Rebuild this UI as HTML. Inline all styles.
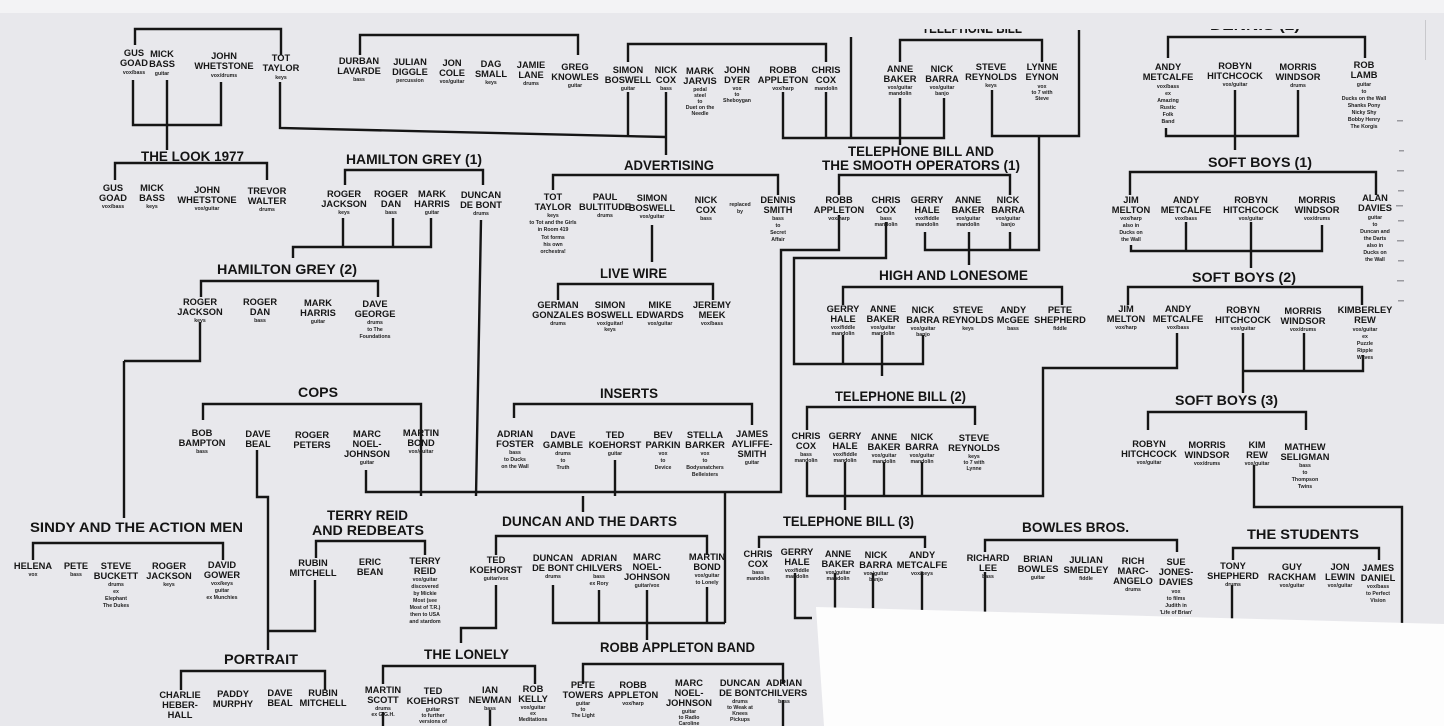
<!DOCTYPE html>
<html><head><meta charset="utf-8">
<style>
html,body{margin:0;padding:0;background:#e8e8ec;}
svg{display:block}
.n{font-family:"Liberation Sans",sans-serif;font-weight:bold;font-size:9.3px;fill:#161616;text-anchor:middle}
.r{font-family:"Liberation Sans",sans-serif;font-weight:bold;font-size:5.2px;fill:#222;text-anchor:middle}
.t{font-family:"Liberation Sans",sans-serif;font-weight:bold;font-size:14px;fill:#141414;text-anchor:start}
path{fill:none;stroke:#151515;stroke-width:2.4}
</style></head><body>
<svg width="1444" height="726" viewBox="0 0 1444 726" xmlns="http://www.w3.org/2000/svg">
<defs><clipPath id="tc"><rect x="0" y="29" width="1444" height="10"/></clipPath></defs>
<rect x="0" y="0" width="1444" height="726" fill="#e8e8ec"/>
<rect x="0" y="0" width="1444" height="13" fill="#f3f3f5"/>
<g clip-path="url(#tc)"><text class="t" x="922" y="33" textLength="100" lengthAdjust="spacingAndGlyphs" fill="#777">TELEPHONE BILL</text><text class="t" x="1210" y="30" textLength="90" lengthAdjust="spacingAndGlyphs" fill="#555">DENNIS (2)</text></g>

<path d="M135 45V29H281V55M133 80V125H221V82M167 80V150M280 82V128L666 137M666 92V155"/>
<path d="M628 62V44H826V62M628 92V137M826 92V138M783 92V138H944V98M851 37V138"/>
<path d="M900 62V40H1042V62M900 98V145M992 90V136H1079V30"/>
<path d="M360 55V35H578V55"/>
<path d="M839 195V175H1010V195M839 215V250H781V492H366V470M886 222V258H794V364H923V335M843 335V364M882 335V376"/>
<path d="M925 232V250H1039V136M1010 232V250M969 232V265"/>
<path d="M843 305V287H1062V305"/>
<path d="M807 430V407H975V425M807 462V496H1043V368H1177V333M845 462V510M884 462V496M922 462V496"/>
<path d="M1168 58V37H1365V58M1166 128V136H1298V90M1235 90V150"/>
<path d="M1130 195V172H1376V195M1131 245V251H1322V225M1186 222V251M1251 222V268"/>
<path d="M1128 305V287H1362V305M1243 333V393M1243 371H1363V355M1304 333V371"/>
<path d="M1148 430V412H1306V430M1254 465V507H1402V625"/>
<path d="M1233 560V548H1379V560M1232 585V620"/>
<path d="M985 552V540H1177V552M985 572V612"/>
<path d="M759 548V537H925V548M795 573V618H812M835 573V608M873 573V608M922 572V610"/>
<path d="M421 418V496M583 496V512M615 460V496M725 492V623"/>
<path d="M553 585V623H725M599 590V623M707 587V623M647 590V640"/>
<path d="M514 418V404H752V425"/>
<path d="M203 420V404H421V418M257 450V497H268V631H315V580M268 631V650"/>
<path d="M124 361H200V322M124 361V518M33 560V543H223V560"/>
<path d="M345 185V170H483V185M343 218V247M393 218V247M431 218V247H293V258M481 220L476 496"/>
<path d="M201 297V281H378V297"/>
<path d="M115 180V163H267V180"/>
<path d="M553 190V175H778V195M652 225V262M558 300V284H713V300"/>
<path d="M316 558V541H425V555"/>
<path d="M496 555V536H707V555M496 585V628H461V643"/>
<path d="M383 684V666H535V684M490 710V726M383 712V726"/>
<path d="M583 684V664H783V684M783 700V726"/>
<path d="M181 690V671H325V690"/>

<text class="t" x="141" y="161" textLength="103" lengthAdjust="spacingAndGlyphs">THE LOOK 1977</text>
<text class="t" x="346" y="164" textLength="136" lengthAdjust="spacingAndGlyphs">HAMILTON GREY (1)</text>
<text class="t" x="217" y="274" textLength="140" lengthAdjust="spacingAndGlyphs">HAMILTON GREY (2)</text>
<text class="t" x="624" y="170" textLength="90" lengthAdjust="spacingAndGlyphs">ADVERTISING</text>
<text class="t" x="600" y="278" textLength="67" lengthAdjust="spacingAndGlyphs">LIVE WIRE</text>
<text class="t" x="848" y="156" textLength="146" lengthAdjust="spacingAndGlyphs">TELEPHONE BILL AND</text>
<text class="t" x="822" y="170" textLength="198" lengthAdjust="spacingAndGlyphs">THE SMOOTH OPERATORS (1)</text>
<text class="t" x="879" y="280" textLength="149" lengthAdjust="spacingAndGlyphs">HIGH AND LONESOME</text>
<text class="t" x="1208" y="167" textLength="104" lengthAdjust="spacingAndGlyphs">SOFT BOYS (1)</text>
<text class="t" x="1192" y="282" textLength="104" lengthAdjust="spacingAndGlyphs">SOFT BOYS (2)</text>
<text class="t" x="298" y="397" textLength="40" lengthAdjust="spacingAndGlyphs">COPS</text>
<text class="t" x="600" y="398" textLength="58" lengthAdjust="spacingAndGlyphs">INSERTS</text>
<text class="t" x="835" y="401" textLength="131" lengthAdjust="spacingAndGlyphs">TELEPHONE BILL (2)</text>
<text class="t" x="1175" y="405" textLength="103" lengthAdjust="spacingAndGlyphs">SOFT BOYS (3)</text>
<text class="t" x="30" y="532" textLength="213" lengthAdjust="spacingAndGlyphs">SINDY AND THE ACTION MEN</text>
<text class="t" x="327" y="520" textLength="81" lengthAdjust="spacingAndGlyphs">TERRY REID</text>
<text class="t" x="312" y="535" textLength="112" lengthAdjust="spacingAndGlyphs">AND REDBEATS</text>
<text class="t" x="502" y="526" textLength="175" lengthAdjust="spacingAndGlyphs">DUNCAN AND THE DARTS</text>
<text class="t" x="783" y="526" textLength="131" lengthAdjust="spacingAndGlyphs">TELEPHONE BILL (3)</text>
<text class="t" x="1022" y="532" textLength="107" lengthAdjust="spacingAndGlyphs">BOWLES BROS.</text>
<text class="t" x="1247" y="539" textLength="112" lengthAdjust="spacingAndGlyphs">THE STUDENTS</text>
<text class="t" x="224" y="664" textLength="74" lengthAdjust="spacingAndGlyphs">PORTRAIT</text>
<text class="t" x="424" y="659" textLength="85" lengthAdjust="spacingAndGlyphs">THE LONELY</text>
<text class="t" x="600" y="652" textLength="155" lengthAdjust="spacingAndGlyphs">ROBB APPLETON BAND</text>

<text class="n" x="134" y="56">GUS</text><text class="n" x="134" y="66">GOAD</text><text class="r" x="134" y="74">vox/bass</text>
<text class="n" x="162" y="57">MICK</text><text class="n" x="162" y="67">BASS</text><text class="r" x="162" y="75">guitar</text>
<text class="n" x="224" y="59">JOHN</text><text class="n" x="224" y="69">WHETSTONE</text><text class="r" x="224" y="77">vox/drums</text>
<text class="n" x="281" y="61">TOT</text><text class="n" x="281" y="71">TAYLOR</text><text class="r" x="281" y="79">keys</text>

<text class="n" x="359" y="64">DURBAN</text><text class="n" x="359" y="74">LAVARDE</text><text class="r" x="359" y="81">bass</text>
<text class="n" x="410" y="65">JULIAN</text><text class="n" x="410" y="75">DIGGLE</text><text class="r" x="410" y="82">percussion</text>
<text class="n" x="452" y="66">JON</text><text class="n" x="452" y="76">COLE</text><text class="r" x="452" y="83">vox/guitar</text>
<text class="n" x="491" y="67">DAG</text><text class="n" x="491" y="77">SMALL</text><text class="r" x="491" y="84">keys</text>
<text class="n" x="531" y="68">JAMIE</text><text class="n" x="531" y="78">LANE</text><text class="r" x="531" y="85">drums</text>
<text class="n" x="575" y="70">GREG</text><text class="n" x="575" y="80">KNOWLES</text><text class="r" x="575" y="87">guitar</text>
<text class="n" x="628" y="73">SIMON</text><text class="n" x="628" y="83">BOSWELL</text><text class="r" x="628" y="90">guitar</text>
<text class="n" x="666" y="73">NICK</text><text class="n" x="666" y="83">COX</text><text class="r" x="666" y="90">bass</text>
<text class="n" x="700" y="74">MARK</text><text class="n" x="700" y="84">JARVIS</text><text class="r" x="700" y="91">pedal</text><text class="r" x="700" y="97">steel</text><text class="r" x="700" y="103">to</text><text class="r" x="700" y="109">Duet on the</text><text class="r" x="700" y="115">Needle</text>
<text class="n" x="737" y="73">JOHN</text><text class="n" x="737" y="83">DYER</text><text class="r" x="737" y="90">vox</text><text class="r" x="737" y="96">to</text><text class="r" x="737" y="102">Sheboygan</text>
<text class="n" x="783" y="73">ROBB</text><text class="n" x="783" y="83">APPLETON</text><text class="r" x="783" y="90">vox/harp</text>
<text class="n" x="826" y="73">CHRIS</text><text class="n" x="826" y="83">COX</text><text class="r" x="826" y="90">mandolin</text>
<text class="n" x="900" y="72">ANNE</text><text class="n" x="900" y="82">BAKER</text><text class="r" x="900" y="89">vox/guitar</text><text class="r" x="900" y="95">mandolin</text>
<text class="n" x="942" y="72">NICK</text><text class="n" x="942" y="82">BARRA</text><text class="r" x="942" y="89">vox/guitar</text><text class="r" x="942" y="95">banjo</text>
<text class="n" x="991" y="70">STEVE</text><text class="n" x="991" y="80">REYNOLDS</text><text class="r" x="991" y="87">keys</text>
<text class="n" x="1042" y="70">LYNNE</text><text class="n" x="1042" y="80">EYNON</text><text class="r" x="1042" y="88">vox</text><text class="r" x="1042" y="94">to 7 with</text><text class="r" x="1042" y="100">Steve</text>

<text class="n" x="1168" y="70">ANDY</text><text class="n" x="1168" y="80">METCALFE</text><text class="r" x="1168" y="88">vox/bass</text><text class="r" x="1168" y="95">ex</text><text class="r" x="1168" y="102">Amazing</text><text class="r" x="1168" y="109">Rustic</text><text class="r" x="1168" y="116">Folk</text><text class="r" x="1168" y="123">Band</text>
<text class="n" x="1235" y="69">ROBYN</text><text class="n" x="1235" y="79">HITCHCOCK</text><text class="r" x="1235" y="86">vox/guitar</text>
<text class="n" x="1298" y="70">MORRIS</text><text class="n" x="1298" y="80">WINDSOR</text><text class="r" x="1298" y="87">drums</text>
<text class="n" x="1364" y="68">ROB</text><text class="n" x="1364" y="78">LAMB</text><text class="r" x="1364" y="86">guitar</text><text class="r" x="1364" y="93">to</text><text class="r" x="1364" y="100">Ducks on the Wall</text><text class="r" x="1364" y="107">Shanks Pony</text><text class="r" x="1364" y="114">Nicky Shy</text><text class="r" x="1364" y="121">Bobby Henry</text><text class="r" x="1364" y="128">The Korgis</text>

<text class="n" x="113" y="191">GUS</text><text class="n" x="113" y="201">GOAD</text><text class="r" x="113" y="208">vox/bass</text>
<text class="n" x="152" y="191">MICK</text><text class="n" x="152" y="201">BASS</text><text class="r" x="152" y="208">keys</text>
<text class="n" x="207" y="193">JOHN</text><text class="n" x="207" y="203">WHETSTONE</text><text class="r" x="207" y="210">vox/guitar</text>
<text class="n" x="267" y="194">TREVOR</text><text class="n" x="267" y="204">WALTER</text><text class="r" x="267" y="211">drums</text>

<text class="n" x="344" y="197">ROGER</text><text class="n" x="344" y="207">JACKSON</text><text class="r" x="344" y="214">keys</text>
<text class="n" x="391" y="197">ROGER</text><text class="n" x="391" y="207">DAN</text><text class="r" x="391" y="214">bass</text>
<text class="n" x="432" y="197">MARK</text><text class="n" x="432" y="207">HARRIS</text><text class="r" x="432" y="214">guitar</text>
<text class="n" x="481" y="198">DUNCAN</text><text class="n" x="481" y="208">DE BONT</text><text class="r" x="481" y="215">drums</text>

<text class="n" x="200" y="305">ROGER</text><text class="n" x="200" y="315">JACKSON</text><text class="r" x="200" y="322">keys</text>
<text class="n" x="260" y="305">ROGER</text><text class="n" x="260" y="315">DAN</text><text class="r" x="260" y="322">bass</text>
<text class="n" x="318" y="306">MARK</text><text class="n" x="318" y="316">HARRIS</text><text class="r" x="318" y="323">guitar</text>
<text class="n" x="375" y="307">DAVE</text><text class="n" x="375" y="317">GEORGE</text><text class="r" x="375" y="324">drums</text><text class="r" x="375" y="331">to The</text><text class="r" x="375" y="338">Foundations</text>

<text class="n" x="553" y="200">TOT</text><text class="n" x="553" y="210">TAYLOR</text><text class="r" x="553" y="217">keys</text><text class="r" x="553" y="224">to Tot and the Girls</text><text class="r" x="553" y="231">in Room 419</text><text class="r" x="553" y="239">Tot forms</text><text class="r" x="553" y="246">his own</text><text class="r" x="553" y="253">orchestra!</text>
<text class="n" x="605" y="200">PAUL</text><text class="n" x="605" y="210">BULTITUDE</text><text class="r" x="605" y="217">drums</text>
<text class="n" x="652" y="201">SIMON</text><text class="n" x="652" y="211">BOSWELL</text><text class="r" x="652" y="218">vox/guitar</text>
<text class="n" x="706" y="203">NICK</text><text class="n" x="706" y="213">COX</text><text class="r" x="706" y="220">bass</text>
<text class="r" x="740" y="206">replaced</text><text class="r" x="740" y="213">by</text>
<text class="n" x="778" y="203">DENNIS</text><text class="n" x="778" y="213">SMITH</text><text class="r" x="778" y="220">bass</text><text class="r" x="778" y="227">to</text><text class="r" x="778" y="234">Secret</text><text class="r" x="778" y="241">Affair</text>

<text class="n" x="558" y="308">GERMAN</text><text class="n" x="558" y="318">GONZALES</text><text class="r" x="558" y="325">drums</text>
<text class="n" x="610" y="308">SIMON</text><text class="n" x="610" y="318">BOSWELL</text><text class="r" x="610" y="325">vox/guitar/</text><text class="r" x="610" y="331">keys</text>
<text class="n" x="660" y="308">MIKE</text><text class="n" x="660" y="318">EDWARDS</text><text class="r" x="660" y="325">vox/guitar</text>
<text class="n" x="712" y="308">JEREMY</text><text class="n" x="712" y="318">MEEK</text><text class="r" x="712" y="325">vox/bass</text>

<text class="n" x="839" y="203">ROBB</text><text class="n" x="839" y="213">APPLETON</text><text class="r" x="839" y="220">vox/harp</text>
<text class="n" x="886" y="203">CHRIS</text><text class="n" x="886" y="213">COX</text><text class="r" x="886" y="220">bass</text><text class="r" x="886" y="226">mandolin</text>
<text class="n" x="927" y="203">GERRY</text><text class="n" x="927" y="213">HALE</text><text class="r" x="927" y="220">vox/fiddle</text><text class="r" x="927" y="226">mandolin</text>
<text class="n" x="968" y="203">ANNE</text><text class="n" x="968" y="213">BAKER</text><text class="r" x="968" y="220">vox/guitar</text><text class="r" x="968" y="226">mandolin</text>
<text class="n" x="1008" y="203">NICK</text><text class="n" x="1008" y="213">BARRA</text><text class="r" x="1008" y="220">vox/guitar</text><text class="r" x="1008" y="226">banjo</text>

<text class="n" x="843" y="312">GERRY</text><text class="n" x="843" y="322">HALE</text><text class="r" x="843" y="329">vox/fiddle</text><text class="r" x="843" y="335">mandolin</text>
<text class="n" x="883" y="312">ANNE</text><text class="n" x="883" y="322">BAKER</text><text class="r" x="883" y="329">vox/guitar</text><text class="r" x="883" y="335">mandolin</text>
<text class="n" x="923" y="313">NICK</text><text class="n" x="923" y="323">BARRA</text><text class="r" x="923" y="330">vox/guitar</text><text class="r" x="923" y="336">banjo</text>
<text class="n" x="968" y="313">STEVE</text><text class="n" x="968" y="323">REYNOLDS</text><text class="r" x="968" y="330">keys</text>
<text class="n" x="1013" y="313">ANDY</text><text class="n" x="1013" y="323">McGEE</text><text class="r" x="1013" y="330">bass</text>
<text class="n" x="1060" y="313">PETE</text><text class="n" x="1060" y="323">SHEPHERD</text><text class="r" x="1060" y="330">fiddle</text>

<text class="n" x="1131" y="203">JIM</text><text class="n" x="1131" y="213">MELTON</text><text class="r" x="1131" y="220">vox/harp</text><text class="r" x="1131" y="227">also in</text><text class="r" x="1131" y="234">Ducks on</text><text class="r" x="1131" y="241">the Wall</text>
<text class="n" x="1186" y="203">ANDY</text><text class="n" x="1186" y="213">METCALFE</text><text class="r" x="1186" y="220">vox/bass</text>
<text class="n" x="1251" y="203">ROBYN</text><text class="n" x="1251" y="213">HITCHCOCK</text><text class="r" x="1251" y="220">vox/guitar</text>
<text class="n" x="1317" y="203">MORRIS</text><text class="n" x="1317" y="213">WINDSOR</text><text class="r" x="1317" y="220">vox/drums</text>
<text class="n" x="1375" y="201">ALAN</text><text class="n" x="1375" y="211">DAVIES</text><text class="r" x="1375" y="219">guitar</text><text class="r" x="1375" y="226">to</text><text class="r" x="1375" y="233">Duncan and</text><text class="r" x="1375" y="240">the Darts</text><text class="r" x="1375" y="247">also in</text><text class="r" x="1375" y="254">Ducks on</text><text class="r" x="1375" y="261">the Wall</text>

<text class="n" x="1126" y="312">JIM</text><text class="n" x="1126" y="322">MELTON</text><text class="r" x="1126" y="329">vox/harp</text>
<text class="n" x="1178" y="312">ANDY</text><text class="n" x="1178" y="322">METCALFE</text><text class="r" x="1178" y="329">vox/bass</text>
<text class="n" x="1243" y="313">ROBYN</text><text class="n" x="1243" y="323">HITCHCOCK</text><text class="r" x="1243" y="330">vox/guitar</text>
<text class="n" x="1303" y="314">MORRIS</text><text class="n" x="1303" y="324">WINDSOR</text><text class="r" x="1303" y="331">vox/drums</text>
<text class="n" x="1365" y="313">KIMBERLEY</text><text class="n" x="1365" y="323">REW</text><text class="r" x="1365" y="331">vox/guitar</text><text class="r" x="1365" y="338">ex</text><text class="r" x="1365" y="345">Puzzle</text><text class="r" x="1365" y="352">Ripple</text><text class="r" x="1365" y="359">Waves</text>

<text class="n" x="806" y="439">CHRIS</text><text class="n" x="806" y="449">COX</text><text class="r" x="806" y="456">bass</text><text class="r" x="806" y="462">mandolin</text>
<text class="n" x="845" y="439">GERRY</text><text class="n" x="845" y="449">HALE</text><text class="r" x="845" y="456">vox/fiddle</text><text class="r" x="845" y="462">mandolin</text>
<text class="n" x="884" y="440">ANNE</text><text class="n" x="884" y="450">BAKER</text><text class="r" x="884" y="457">vox/guitar</text><text class="r" x="884" y="463">mandolin</text>
<text class="n" x="922" y="440">NICK</text><text class="n" x="922" y="450">BARRA</text><text class="r" x="922" y="457">vox/guitar</text><text class="r" x="922" y="463">mandolin</text>
<text class="n" x="974" y="441">STEVE</text><text class="n" x="974" y="451">REYNOLDS</text><text class="r" x="974" y="458">keys</text><text class="r" x="974" y="464">to 7 with</text><text class="r" x="974" y="470">Lynne</text>

<text class="n" x="1149" y="447">ROBYN</text><text class="n" x="1149" y="457">HITCHCOCK</text><text class="r" x="1149" y="464">vox/guitar</text>
<text class="n" x="1207" y="448">MORRIS</text><text class="n" x="1207" y="458">WINDSOR</text><text class="r" x="1207" y="465">vox/drums</text>
<text class="n" x="1257" y="448">KIM</text><text class="n" x="1257" y="458">REW</text><text class="r" x="1257" y="465">vox/guitar</text>
<text class="n" x="1305" y="450">MATHEW</text><text class="n" x="1305" y="460">SELIGMAN</text><text class="r" x="1305" y="467">bass</text><text class="r" x="1305" y="474">to</text><text class="r" x="1305" y="481">Thompson</text><text class="r" x="1305" y="488">Twins</text>

<text class="n" x="202" y="436">BOB</text><text class="n" x="202" y="446">BAMPTON</text><text class="r" x="202" y="453">bass</text>
<text class="n" x="258" y="437">DAVE</text><text class="n" x="258" y="447">BEAL</text>
<text class="n" x="312" y="438">ROGER</text><text class="n" x="312" y="448">PETERS</text>
<text class="n" x="367" y="437">MARC</text><text class="n" x="367" y="447">NOEL-</text><text class="n" x="367" y="457">JOHNSON</text><text class="r" x="367" y="464">guitar</text>
<text class="n" x="421" y="436">MARTIN</text><text class="n" x="421" y="446">BOND</text><text class="r" x="421" y="453">vox/guitar</text>

<text class="n" x="515" y="437">ADRIAN</text><text class="n" x="515" y="447">FOSTER</text><text class="r" x="515" y="454">bass</text><text class="r" x="515" y="461">to Ducks</text><text class="r" x="515" y="468">on the Wall</text>
<text class="n" x="563" y="438">DAVE</text><text class="n" x="563" y="448">GAMBLE</text><text class="r" x="563" y="455">drums</text><text class="r" x="563" y="462">to</text><text class="r" x="563" y="469">Truth</text>
<text class="n" x="615" y="438">TED</text><text class="n" x="615" y="448">KOEHORST</text><text class="r" x="615" y="455">guitar</text>
<text class="n" x="663" y="438">BEV</text><text class="n" x="663" y="448">PARKIN</text><text class="r" x="663" y="455">vox</text><text class="r" x="663" y="462">to</text><text class="r" x="663" y="469">Device</text>
<text class="n" x="705" y="438">STELLA</text><text class="n" x="705" y="448">BARKER</text><text class="r" x="705" y="455">vox</text><text class="r" x="705" y="462">to</text><text class="r" x="705" y="469">Bodysnatchers</text><text class="r" x="705" y="476">Belleisters</text>
<text class="n" x="752" y="437">JAMES</text><text class="n" x="752" y="447">AYLIFFE-</text><text class="n" x="752" y="457">SMITH</text><text class="r" x="752" y="464">guitar</text>

<text class="n" x="758" y="557">CHRIS</text><text class="n" x="758" y="567">COX</text><text class="r" x="758" y="574">bass</text><text class="r" x="758" y="580">mandolin</text>
<text class="n" x="797" y="555">GERRY</text><text class="n" x="797" y="565">HALE</text><text class="r" x="797" y="572">vox/fiddle</text><text class="r" x="797" y="578">mandolin</text>
<text class="n" x="838" y="557">ANNE</text><text class="n" x="838" y="567">BAKER</text><text class="r" x="838" y="574">vox/guitar</text><text class="r" x="838" y="580">mandolin</text>
<text class="n" x="876" y="558">NICK</text><text class="n" x="876" y="568">BARRA</text><text class="r" x="876" y="575">vox/guitar</text><text class="r" x="876" y="581">banjo</text>
<text class="n" x="922" y="558">ANDY</text><text class="n" x="922" y="568">METCALFE</text><text class="r" x="922" y="575">vox/keys</text>

<text class="n" x="988" y="561">RICHARD</text><text class="n" x="988" y="571">LEE</text><text class="r" x="988" y="578">bass</text>
<text class="n" x="1038" y="562">BRIAN</text><text class="n" x="1038" y="572">BOWLES</text><text class="r" x="1038" y="579">guitar</text>
<text class="n" x="1086" y="563">JULIAN</text><text class="n" x="1086" y="573">SMEDLEY</text><text class="r" x="1086" y="580">fiddle</text>
<text class="n" x="1133" y="564">RICH</text><text class="n" x="1133" y="574">MARC-</text><text class="n" x="1133" y="584">ANGELO</text><text class="r" x="1133" y="591">drums</text>
<text class="n" x="1176" y="565">SUE</text><text class="n" x="1176" y="575">JONES-</text><text class="n" x="1176" y="585">DAVIES</text><text class="r" x="1176" y="593">vox</text><text class="r" x="1176" y="600">to films</text><text class="r" x="1176" y="607">Judith in</text><text class="r" x="1176" y="614">'Life of Brian'</text>

<text class="n" x="1233" y="569">TONY</text><text class="n" x="1233" y="579">SHEPHERD</text><text class="r" x="1233" y="586">drums</text>
<text class="n" x="1292" y="570">GUY</text><text class="n" x="1292" y="580">RACKHAM</text><text class="r" x="1292" y="587">vox/guitar</text>
<text class="n" x="1340" y="570">JON</text><text class="n" x="1340" y="580">LEWIN</text><text class="r" x="1340" y="587">vox/guitar</text>
<text class="n" x="1378" y="571">JAMES</text><text class="n" x="1378" y="581">DANIEL</text><text class="r" x="1378" y="588">vox/bass</text><text class="r" x="1378" y="595">to Perfect</text><text class="r" x="1378" y="602">Vision</text>

<text class="n" x="33" y="569">HELENA</text><text class="r" x="33" y="576">vox</text>
<text class="n" x="76" y="569">PETE</text><text class="r" x="76" y="576">bass</text>
<text class="n" x="116" y="569">STEVE</text><text class="n" x="116" y="579">BUCKETT</text><text class="r" x="116" y="586">drums</text><text class="r" x="116" y="593">ex</text><text class="r" x="116" y="600">Elephant</text><text class="r" x="116" y="607">The Dukes</text>
<text class="n" x="169" y="569">ROGER</text><text class="n" x="169" y="579">JACKSON</text><text class="r" x="169" y="586">keys</text>
<text class="n" x="222" y="568">DAVID</text><text class="n" x="222" y="578">GOWER</text><text class="r" x="222" y="585">vox/keys</text><text class="r" x="222" y="592">guitar</text><text class="r" x="222" y="599">ex Munchies</text>

<text class="n" x="313" y="566">RUBIN</text><text class="n" x="313" y="576">MITCHELL</text>
<text class="n" x="370" y="565">ERIC</text><text class="n" x="370" y="575">BEAN</text>
<text class="n" x="425" y="564">TERRY</text><text class="n" x="425" y="574">REID</text><text class="r" x="425" y="581">vox/guitar</text><text class="r" x="425" y="588">discovered</text><text class="r" x="425" y="595">by Mickie</text><text class="r" x="425" y="602">Most (see</text><text class="r" x="425" y="609">Most of T.R.)</text><text class="r" x="425" y="616">then to USA</text><text class="r" x="425" y="623">and stardom</text>

<text class="n" x="496" y="563">TED</text><text class="n" x="496" y="573">KOEHORST</text><text class="r" x="496" y="580">guitar/vox</text>
<text class="n" x="553" y="561">DUNCAN</text><text class="n" x="553" y="571">DE BONT</text><text class="r" x="553" y="578">drums</text>
<text class="n" x="599" y="561">ADRIAN</text><text class="n" x="599" y="571">CHILVERS</text><text class="r" x="599" y="578">bass</text><text class="r" x="599" y="585">ex Rory</text>
<text class="n" x="647" y="560">MARC</text><text class="n" x="647" y="570">NOEL-</text><text class="n" x="647" y="580">JOHNSON</text><text class="r" x="647" y="587">guitar/vox</text>
<text class="n" x="707" y="560">MARTIN</text><text class="n" x="707" y="570">BOND</text><text class="r" x="707" y="577">vox/guitar</text><text class="r" x="707" y="584">to Lonely</text>

<text class="n" x="180" y="698">CHARLIE</text><text class="n" x="180" y="708">HEBER-</text><text class="n" x="180" y="718">HALL</text>
<text class="n" x="233" y="697">PADDY</text><text class="n" x="233" y="707">MURPHY</text>
<text class="n" x="280" y="696">DAVE</text><text class="n" x="280" y="706">BEAL</text>
<text class="n" x="323" y="696">RUBIN</text><text class="n" x="323" y="706">MITCHELL</text>

<text class="n" x="383" y="693">MARTIN</text><text class="n" x="383" y="703">SCOTT</text><text class="r" x="383" y="710">drums</text><text class="r" x="383" y="716">ex G.G.H.</text>
<text class="n" x="433" y="694">TED</text><text class="n" x="433" y="704">KOEHORST</text><text class="r" x="433" y="711">guitar</text><text class="r" x="433" y="717">to further</text><text class="r" x="433" y="723">versions of</text>
<text class="n" x="490" y="693">IAN</text><text class="n" x="490" y="703">NEWMAN</text><text class="r" x="490" y="710">bass</text>
<text class="n" x="533" y="692">ROB</text><text class="n" x="533" y="702">KELLY</text><text class="r" x="533" y="709">vox/guitar</text><text class="r" x="533" y="715">ex</text><text class="r" x="533" y="721">Meditations</text>

<text class="n" x="583" y="688">PETE</text><text class="n" x="583" y="698">TOWERS</text><text class="r" x="583" y="705">guitar</text><text class="r" x="583" y="711">to</text><text class="r" x="583" y="717">The Light</text>
<text class="n" x="633" y="688">ROBB</text><text class="n" x="633" y="698">APPLETON</text><text class="r" x="633" y="705">vox/harp</text>
<text class="n" x="689" y="686">MARC</text><text class="n" x="689" y="696">NOEL-</text><text class="n" x="689" y="706">JOHNSON</text><text class="r" x="689" y="713">guitar</text><text class="r" x="689" y="719">to Radio</text><text class="r" x="689" y="725">Caroline</text>
<text class="n" x="740" y="686">DUNCAN</text><text class="n" x="740" y="696">DE BONT</text><text class="r" x="740" y="703">drums</text><text class="r" x="740" y="709">to Weak at</text><text class="r" x="740" y="715">Knees</text><text class="r" x="740" y="721">Pickups</text>
<text class="n" x="784" y="686">ADRIAN</text><text class="n" x="784" y="696">CHILVERS</text><text class="r" x="784" y="703">bass</text>
<text class="n" x="830" y="690">G</text><text class="n" x="830" y="700">H</text>

<g fill="#9a9aa0">
<rect x="1397" y="120" width="6" height="1.5"/><rect x="1399" y="150" width="5" height="1.5"/><rect x="1397" y="170" width="7" height="1.5"/><rect x="1398" y="190" width="6" height="1.5"/><rect x="1396" y="205" width="7" height="1.5"/><rect x="1398" y="220" width="6" height="1.5"/><rect x="1397" y="240" width="7" height="1.5"/><rect x="1398" y="260" width="6" height="1.5"/><rect x="1397" y="280" width="7" height="1.5"/><rect x="1398" y="300" width="6" height="1.5"/><rect x="1425" y="20" width="1" height="40" fill="#c8c8cc"/>
</g>

<polygon points="816,607 1444,624 1444,726 824,726" fill="#fdfdfd"/>
</svg>
</body></html>
